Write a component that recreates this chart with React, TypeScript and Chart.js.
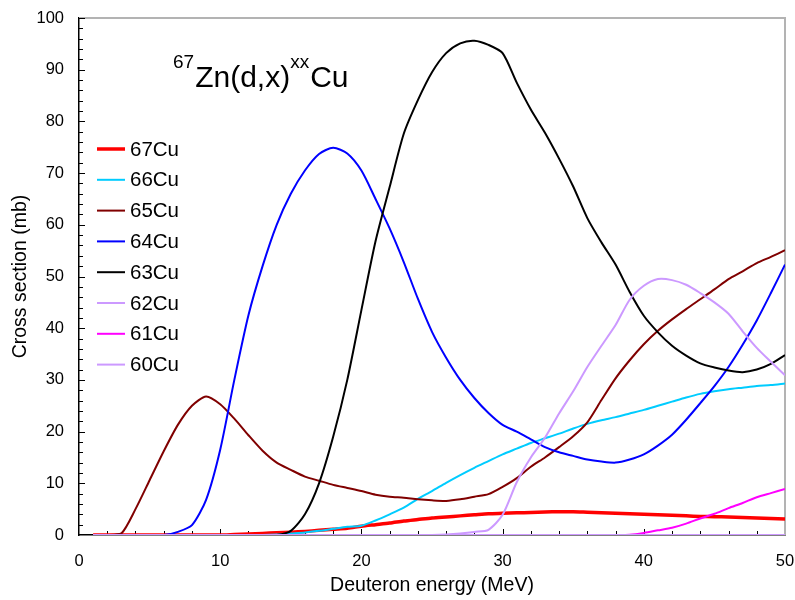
import { useEffect, useRef } from "react";
import { Chart, registerables } from "chart.js";
Chart.register(...registerables);

const energies = [
  1, 2, 3, 4, 5, 6, 7, 8, 9, 10, 11, 12, 13, 14, 15, 16, 17, 18, 19, 20, 21, 22, 23, 24, 25,
  26, 27, 28, 29, 30, 31, 32, 33, 34, 35, 36, 37, 38, 39, 40, 41, 42, 43, 44, 45, 46, 47, 48, 49, 50,
];

const cu67 = [
  0, 0, 0, 0, 0, 0, 0, 0, 0, 0, 0.1, 0.2, 0.3, 0.45, 0.55, 0.7, 0.9, 1.1, 1.3, 1.7, 2.0, 2.3, 2.7, 3.0, 3.3,
  3.5, 3.7, 3.9, 4.1, 4.2, 4.3, 4.35, 4.45, 4.5, 4.5, 4.4, 4.3, 4.2, 4.1, 4.0, 3.9, 3.8, 3.7, 3.6, 3.55, 3.5, 3.4, 3.3, 3.2, 3.1,
];
const cu66 = [
  0, 0, 0, 0, 0, 0, 0, 0, 0, 0, 0, 0, 0, 0.1, 0.3, 0.5, 0.8, 1.2, 1.6, 1.8, 2.8, 4.0, 5.3, 7.0, 8.5,
  10.1, 11.6, 13.0, 14.3, 15.6, 16.7, 17.8, 18.7, 19.6, 20.6, 21.5, 22.2, 22.8, 23.5, 24.2, 25.0, 25.8, 26.6, 27.3, 27.8, 28.2, 28.5, 28.8, 29.0, 29.3,
];
const cu65 = [
  0, 0, 0.3, 5.0, 10.6, 16.2, 21.3, 25.0, 26.8, 25.3, 22.5, 19.3, 16.3, 14.0, 12.6, 11.3, 10.5, 9.7, 9.1, 8.5, 7.8, 7.4, 7.2, 6.9, 6.7,
  6.6, 6.9, 7.4, 7.9, 9.3, 11.0, 13.2, 15.0, 17.0, 19.1, 21.8, 26.1, 30.3, 33.8, 36.9, 39.5, 41.7, 43.7, 45.6, 47.5, 49.5, 51.0, 52.6, 53.8, 55.1,
];
const cu64 = [
  0, 0, 0, 0, 0, 0, 0.6, 1.9, 6.8, 16.5, 30.0, 42.5, 52.0, 60.0, 66.0, 70.5, 73.7, 74.9, 73.8, 70.5, 65.0, 59.3, 52.8, 45.7, 39.3,
  34.3, 30.0, 26.5, 23.6, 21.3, 20.0, 18.5, 17.0, 16.0, 15.3, 14.6, 14.2, 14.0, 14.6, 15.6, 17.3, 19.4, 22.3, 25.5, 28.8, 32.5, 36.8, 41.5, 46.8, 52.3,
];
const cu63 = [
  0, 0, 0, 0, 0, 0, 0, 0, 0, 0, 0, 0, 0, 0, 0.8, 4.0, 10.0, 19.0, 30.0, 43.5, 56.8, 67.3, 77.6, 84.1, 89.5,
  93.2, 95.1, 95.6, 94.8, 93.2, 87.5, 82.3, 77.8, 72.8, 67.4, 61.3, 56.6, 52.3, 47.0, 42.4, 39.2, 36.6, 34.7, 33.2, 32.4, 31.8, 31.5, 32.0, 33.1, 34.8,
];
const cu62 = [
  0, 0, 0, 0, 0, 0, 0, 0, 0, 0, 0, 0, 0, 0, 0, 0, 0, 0, 0, 0, 0, 0, 0, 0, 0,
  0.1, 0.3, 0.6, 1.0, 3.9, 10.2, 15.0, 18.8, 23.5, 27.8, 32.5, 36.6, 40.6, 45.5, 48.2, 49.5, 49.3, 48.4, 46.8, 45.0, 42.8, 39.4, 36.2, 33.5, 30.9,
];
const cu61 = [
  0, 0, 0, 0, 0, 0, 0, 0, 0, 0, 0, 0, 0, 0, 0, 0, 0, 0, 0, 0, 0, 0, 0, 0, 0,
  0, 0, 0, 0, 0, 0, 0, 0, 0, 0, 0, 0, 0, 0.05, 0.4, 0.9, 1.4, 2.2, 3.2, 4.1, 5.2, 6.2, 7.3, 8.1, 8.9,
];
const cu60 = [
  0, 0, 0, 0, 0, 0, 0, 0, 0, 0, 0, 0, 0, 0, 0, 0, 0, 0, 0, 0, 0, 0, 0, 0, 0,
  0, 0, 0, 0, 0, 0, 0, 0, 0, 0, 0, 0, 0, 0, 0, 0, 0, 0, 0, 0, 0, 0, 0, 0, 0,
];

const seriesLabels = ["67Cu", "66Cu", "65Cu", "64Cu", "63Cu", "62Cu", "61Cu", "60Cu"];
const seriesValues = [cu67, cu66, cu65, cu64, cu63, cu62, cu61, cu60];
const seriesColors = ["#ff0000", "#00ccff", "#800000", "#0000ff", "#000000", "#cc99ff", "#ff00ff", "#cc99ff"];
const seriesWidths = [3.5, 2, 2, 2, 2, 2, 2, 2];

const xTickValues = [0, 10, 20, 30, 40, 50];
const yTickValues = [0, 10, 20, 30, 40, 50, 60, 70, 80, 90, 100];

const FONT = "'Liberation Sans', Arial, sans-serif";

const decor = {
  id: "decor",
  beforeDatasetsDraw(chart: any) {
    const { ctx, chartArea, scales } = chart;
    const { left, right, top, bottom } = chartArea;
    const xs = scales.x;
    const ys = scales.y;
    ctx.save();
    ctx.strokeStyle = "#b3b3b3";
    ctx.lineWidth = 2;
    ctx.beginPath();
    ctx.moveTo(left, top);
    ctx.lineTo(right, top);
    ctx.lineTo(right, bottom);
    ctx.stroke();
    ctx.strokeStyle = "#000";
    ctx.lineWidth = 1;
    ctx.beginPath();
    for (let v = 2; v < 50; v += 2) {
      const px = Math.round(xs.getPixelForValue(v)) + 0.5;
      const len = v % 10 === 0 ? 6 : 4;
      ctx.moveTo(px, bottom);
      ctx.lineTo(px, bottom - len);
    }
    for (let v = 2; v <= 100; v += 2) {
      const py = Math.round(ys.getPixelForValue(v)) + 0.5;
      const len = v % 10 === 0 ? 6 : 4;
      ctx.moveTo(left, py);
      ctx.lineTo(left + len, py);
    }
    ctx.stroke();
    ctx.restore();
  },
  afterDraw(chart: any) {
    const { ctx } = chart;
    ctx.save();
    // legend
    const rowY0 = 149;
    const rowStep = 30.8;
    chart.data.datasets.forEach((ds: any, i: number) => {
      const y = rowY0 + i * rowStep;
      ctx.strokeStyle = ds.borderColor;
      ctx.lineWidth = ds.borderWidth;
      ctx.beginPath();
      ctx.moveTo(97, y);
      ctx.lineTo(125, y);
      ctx.stroke();
      ctx.fillStyle = "#000";
      ctx.font = `20.5px ${FONT}`;
      ctx.textBaseline = "middle";
      ctx.textAlign = "left";
      ctx.fillText(ds.label, 130, y + 1);
    });
    // title
    ctx.fillStyle = "#000";
    ctx.textBaseline = "alphabetic";
    ctx.textAlign = "left";
    let x = 173;
    const parts: [string, number, number][] = [
      ["67", 19, 68],
      ["Zn(d,x)", 30, 87],
      ["xx", 19, 68],
      ["Cu", 30, 87],
    ];
    for (const [t, size, base] of parts) {
      ctx.font = `${size}px ${FONT}`;
      ctx.fillText(t, x, base);
      x += ctx.measureText(t).width + (size < 25 ? 1 : 0);
    }
    ctx.restore();
  },
};

export default function App() {
  const ref = useRef<HTMLCanvasElement | null>(null);
  useEffect(() => {
    if (!ref.current) return;
    const chart = new Chart(ref.current, {
      type: "line",
      data: {
        datasets: seriesLabels.map((label, i) => ({
          label,
          data: energies.map((e, k) => ({ x: e, y: seriesValues[i][k] })),
          borderColor: seriesColors[i],
          backgroundColor: seriesColors[i],
          borderWidth: seriesWidths[i],
          pointRadius: 0,
          tension: 0.25,
          fill: false,
          order: seriesLabels.length - i,
        })),
      },
      options: {
        responsive: false,
        animation: false,
        layout: { padding: { left: 0, right: 10, top: 18, bottom: 0 } },
        plugins: { legend: { display: false }, tooltip: { enabled: false }, title: { display: false } },
        scales: {
          x: {
            type: "linear",
            min: 0,
            max: 50,
            afterFit: (s: any) => {
              s.height = 65;
            },
            afterBuildTicks: (s: any) => {
              s.ticks = xTickValues.map((v) => ({ value: v }));
            },
            grid: { display: true, drawOnChartArea: false, drawTicks: true, tickLength: 17, color: "rgba(0,0,0,0)" },
            border: { display: true, color: "#000", width: 1.5 },
            ticks: { color: "#000", padding: 0, font: { family: FONT, size: 16.5 }, maxRotation: 0 },
            title: {
              display: true,
              text: "Deuteron energy (MeV)",
              color: "#000",
              font: { family: FONT, size: 19.5 },
              padding: { top: 0, bottom: 3 },
            },
          },
          y: {
            type: "linear",
            min: 0,
            max: 100,
            afterFit: (s: any) => {
              s.width = 79;
            },
            afterBuildTicks: (s: any) => {
              s.ticks = yTickValues.map((v) => ({ value: v }));
            },
            grid: { display: true, drawOnChartArea: false, drawTicks: true, tickLength: 15, color: "rgba(0,0,0,0)" },
            border: { display: true, color: "#000", width: 1.5 },
            ticks: { color: "#000", padding: 0, font: { family: FONT, size: 16.5 } },
            title: {
              display: true,
              text: "Cross section (mb)",
              color: "#000",
              font: { family: FONT, size: 19.5 },
              padding: { top: 9, bottom: 0 },
            },
          },
        },
      },
      plugins: [decor],
    } as any);
    return () => chart.destroy();
  }, []);
  return (
    <div style={{ position: "absolute", left: 0, top: 0, width: 795, height: 600, background: "#fff" }}>
      <canvas ref={ref} width={795} height={600} style={{ display: "block" }} />
    </div>
  );
}
